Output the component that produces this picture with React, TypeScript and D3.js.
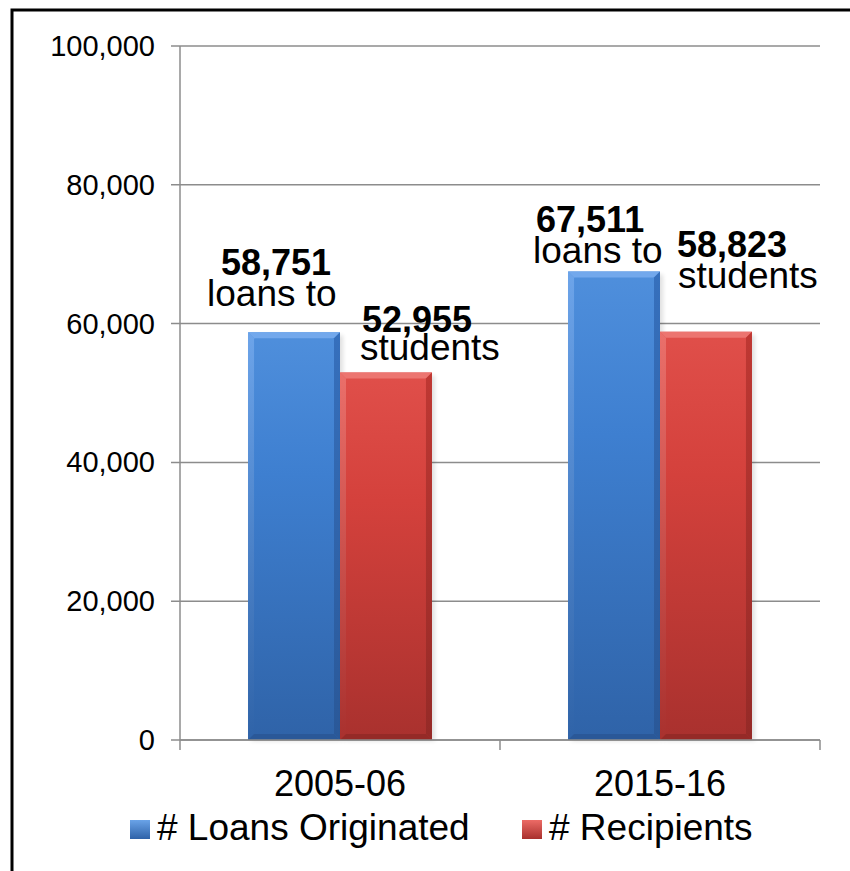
import React from "react";
import * as d3 from "d3";

const categories = ["2005-06", "2015-16"];
const seriesNames = ["# Loans Originated", "# Recipients"];
const loansOriginated = [58751, 67511];
const recipients = [52955, 58823];
const yTicks = [0, 20000, 40000, 60000, 80000, 100000];
const labelSecondLines = ["loans to", "students"];

const W = 850;
const H = 871;
const FONT = "'Liberation Sans', Arial, Helvetica, sans-serif";

const palette = [
  { top: "#4f8fdc", mid: "#3e7fd0", bottom: "#2f63a8", hi: "#72a8ec", side: "#3670bd", low: "#2a5898" },
  { top: "#e04f4a", mid: "#d4413c", bottom: "#a9312e", hi: "#ec7570", side: "#bf3833", low: "#952a27" },
];

// label offsets (relative to bar left edge / bar top), per series then per category
const labelLayout = [
  [
    { nx: -27, ny: -57, lx: -41, ly: -26 },
    { nx: -32, ny: -39, lx: -35, ly: -8 },
  ],
  [
    { nx: 22, ny: -40, lx: 20, ly: -12 },
    { nx: 17, ny: -75, lx: 18, ly: -44 },
  ],
];

export default function App() {
  const x = d3.scaleBand<string>().domain(categories).range([180, 820]).paddingInner(0).paddingOuter(0);
  const xs = d3
    .scaleBand<string>()
    .domain(seriesNames)
    .range([0, x.bandwidth()])
    .paddingInner(0)
    .paddingOuter(0.74);
  const y = d3.scaleLinear().domain([0, 100000]).range([740, 46]);
  const fmt = d3.format(",");
  const series = [loansOriginated, recipients];
  const bev = 6;

  const bar = (si: number, ci: number) => {
    const v = series[si][ci];
    const x0 = (x(categories[ci]) ?? 0) + (xs(seriesNames[si]) ?? 0);
    const w = xs.bandwidth();
    const y0 = y(v);
    const y1 = y(0);
    const h = y1 - y0;
    const c = palette[si];
    const b = Math.min(bev, h / 2);
    return (
      <g key={`b${si}-${ci}`}>
        <rect x={x0 + 3} y={y0 + 3} width={w} height={h - 2} fill="#000" opacity={0.12} filter="url(#shadow)" />
        <rect x={x0} y={y0} width={w} height={h} fill={`url(#grad${si})`} />
        <polygon
          points={`${x0},${y0} ${x0 + w},${y0} ${x0 + w - b},${y0 + b} ${x0 + b},${y0 + b}`}
          fill={c.hi}
        />
        <polygon
          points={`${x0},${y0} ${x0 + b},${y0 + b} ${x0 + b},${y1 - b} ${x0},${y1}`}
          fill={`url(#side${si})`}
          opacity={0.85}
        />
        <polygon
          points={`${x0 + w},${y0} ${x0 + w - b},${y0 + b} ${x0 + w - b},${y1 - b} ${x0 + w},${y1}`}
          fill={`url(#sideR${si})`}
        />
        <polygon
          points={`${x0},${y1} ${x0 + b},${y1 - b} ${x0 + w - b},${y1 - b} ${x0 + w},${y1}`}
          fill={c.low}
        />
      </g>
    );
  };

  const label = (si: number, ci: number) => {
    const v = series[si][ci];
    const x0 = (x(categories[ci]) ?? 0) + (xs(seriesNames[si]) ?? 0);
    const y0 = y(v);
    const L = labelLayout[si][ci];
    return (
      <g key={`l${si}-${ci}`} fontFamily={FONT} fill="#000">
        <text x={x0 + L.nx} y={y0 + L.ny} fontSize={36} fontWeight="bold">
          {fmt(v)}
        </text>
        <text x={x0 + L.lx} y={y0 + L.ly} fontSize={37}>
          {labelSecondLines[si]}
        </text>
      </g>
    );
  };

  const legendItems = [
    { mx: 130, tx: 157 },
    { mx: 522, tx: 549 },
  ];

  return (
    <svg
      width={W}
      height={H}
      style={{ position: "absolute", left: 0, top: 0, background: "#fff" }}
      xmlns="http://www.w3.org/2000/svg"
    >
      <defs>
        {palette.map((c, i) => (
          <React.Fragment key={i}>
            <linearGradient id={`grad${i}`} x1="0" y1="0" x2="0" y2="1">
              <stop offset="0" stopColor={c.top} />
              <stop offset="0.35" stopColor={c.mid} />
              <stop offset="1" stopColor={c.bottom} />
            </linearGradient>
            <linearGradient id={`side${i}`} x1="0" y1="0" x2="0" y2="1">
              <stop offset="0" stopColor={c.hi} />
              <stop offset="1" stopColor={c.bottom} />
            </linearGradient>
            <linearGradient id={`sideR${i}`} x1="0" y1="0" x2="0" y2="1">
              <stop offset="0" stopColor={c.side} />
              <stop offset="1" stopColor={c.low} />
            </linearGradient>
          </React.Fragment>
        ))}
        <filter id="shadow" x="-20%" y="-20%" width="140%" height="140%">
          <feGaussianBlur stdDeviation="2" />
        </filter>
        <linearGradient id="legend0" x1="0" y1="0" x2="0" y2="1">
          <stop offset="0" stopColor="#6aa3e8" />
          <stop offset="1" stopColor="#2e62a8" />
        </linearGradient>
        <linearGradient id="legend1" x1="0" y1="0" x2="0" y2="1">
          <stop offset="0" stopColor="#ec6b66" />
          <stop offset="1" stopColor="#a8302d" />
        </linearGradient>
      </defs>

      <rect x={12} y={10} width={W + 20} height={H + 20} fill="none" stroke="#000" strokeWidth={3} />

      {yTicks.map((t) => (
        <line key={`g${t}`} x1={171} x2={820} y1={y(t)} y2={y(t)} stroke="#8c8c8c" strokeWidth={1.5} />
      ))}
      <line x1={180} x2={180} y1={y(100000)} y2={y(0)} stroke="#8c8c8c" strokeWidth={1.5} />
      {[...categories.map((c) => x(c) ?? 0), 820].map((xx, i) => (
        <line key={`xt${i}`} x1={xx} x2={xx} y1={y(0)} y2={y(0) + 10} stroke="#8c8c8c" strokeWidth={1.5} />
      ))}

      {yTicks.map((t) => (
        <text key={`yl${t}`} x={155} y={y(t) + 10} fontSize={29} textAnchor="end" fontFamily={FONT} fill="#000">
          {fmt(t)}
        </text>
      ))}

      {series.map((_, si) => categories.map((_, ci) => bar(si, ci)))}
      <line x1={180} x2={820} y1={y(0)} y2={y(0)} stroke="#8c8c8c" strokeWidth={1.5} />

      {series.map((_, si) => categories.map((_, ci) => label(si, ci)))}

      {categories.map((c) => (
        <text
          key={`c${c}`}
          x={(x(c) ?? 0) + x.bandwidth() / 2}
          y={796}
          fontSize={36}
          textAnchor="middle"
          fontFamily={FONT}
          fill="#000"
        >
          {c}
        </text>
      ))}

      {seriesNames.map((s, i) => (
        <g key={`lg${i}`}>
          <rect x={legendItems[i].mx} y={820} width={20} height={19} fill={`url(#legend${i})`} />
          <text x={legendItems[i].tx} y={840} fontSize={37} fontFamily={FONT} fill="#000">
            {s}
          </text>
        </g>
      ))}
    </svg>
  );
}
